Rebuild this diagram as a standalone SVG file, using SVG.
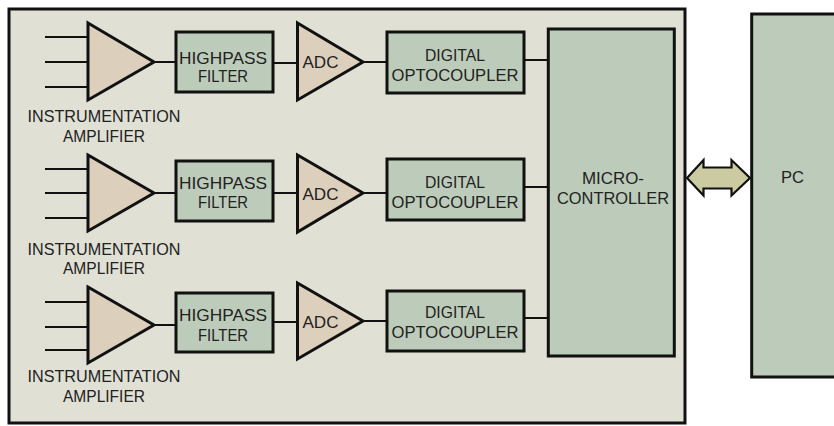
<svg xmlns="http://www.w3.org/2000/svg" width="834" height="426" viewBox="0 0 834 426">
<style>
.bg{fill:#e0e0d4;stroke:#111;stroke-width:3}
.box{fill:#bdccba;stroke:#111;stroke-width:3}
.tri{fill:#dccfbc;stroke:#111;stroke-width:3;stroke-linejoin:miter}
.ln{stroke:#111;stroke-width:1.8;fill:none}
.arr{fill:#cccaa0;stroke:#111;stroke-width:2.2}
text{font-family:"Liberation Sans",Arial,sans-serif;font-size:17px;fill:#222;text-anchor:middle}
</style>
<rect width="834" height="426" fill="#fff"/>
<rect id="board" class="bg" x="9" y="9" width="676" height="414"/>
<g id="connectors">
<path class="ln" d="M45 37H88M45 62H88M45 87H88M154 62H176M273 63H297.5M363 62H387M524 60H548"/>
<path class="ln" d="M45 169H88M45 193H88M45 218H88M154 193H176M273 193H297.5M363 193H387M524 187H548"/>
<path class="ln" d="M45 302H88M45 327H88M45 350H88M154 325H176M273 322H297.5M363 321H387M524 318H548"/>
<polygon id="link" class="arr" points="687,178 703.5,160 703.5,167.5 731.5,167.5 731.5,160 750,178 731.5,195.5 731.5,188.5 703.5,188.5 703.5,195.5"/>
</g>
<g id="amp1"><polygon class="tri" points="88,23 154,62 88,100"/><text x="104" y="121.5" textLength="153" lengthAdjust="spacingAndGlyphs">INSTRUMENTATION</text><text x="104" y="141.5" textLength="82" lengthAdjust="spacingAndGlyphs">AMPLIFIER</text></g>
<g id="hp1"><rect class="box" x="176" y="32" width="97" height="60"/><text x="223" y="64" textLength="88" lengthAdjust="spacingAndGlyphs">HIGHPASS</text><text x="223" y="82" textLength="50" lengthAdjust="spacingAndGlyphs">FILTER</text></g>
<g id="adc1"><polygon class="tri" points="297.5,23 363,62 297.5,100"/><text x="320.5" y="68" textLength="36" lengthAdjust="spacingAndGlyphs">ADC</text></g>
<g id="opto1"><rect class="box" x="387" y="32" width="137" height="61"/><text x="455" y="61" textLength="60" lengthAdjust="spacingAndGlyphs">DIGITAL</text><text x="455" y="81" textLength="127" lengthAdjust="spacingAndGlyphs">OPTOCOUPLER</text></g>
<g id="amp2"><polygon class="tri" points="88,155 154,193 88,231"/><text x="104" y="255" textLength="153" lengthAdjust="spacingAndGlyphs">INSTRUMENTATION</text><text x="104" y="274" textLength="82" lengthAdjust="spacingAndGlyphs">AMPLIFIER</text></g>
<g id="hp2"><rect class="box" x="176" y="161" width="97" height="60"/><text x="223" y="189" textLength="88" lengthAdjust="spacingAndGlyphs">HIGHPASS</text><text x="223" y="208" textLength="50" lengthAdjust="spacingAndGlyphs">FILTER</text></g>
<g id="adc2"><polygon class="tri" points="297.5,155 363,193 297.5,232"/><text x="320.5" y="200" textLength="36" lengthAdjust="spacingAndGlyphs">ADC</text></g>
<g id="opto2"><rect class="box" x="387" y="159" width="137" height="61"/><text x="455" y="188" textLength="60" lengthAdjust="spacingAndGlyphs">DIGITAL</text><text x="455" y="208" textLength="127" lengthAdjust="spacingAndGlyphs">OPTOCOUPLER</text></g>
<g id="amp3"><polygon class="tri" points="88,287 154,325 88,363"/><text x="104" y="382" textLength="153" lengthAdjust="spacingAndGlyphs">INSTRUMENTATION</text><text x="104" y="402" textLength="82" lengthAdjust="spacingAndGlyphs">AMPLIFIER</text></g>
<g id="hp3"><rect class="box" x="176" y="293" width="97" height="59"/><text x="223" y="321" textLength="88" lengthAdjust="spacingAndGlyphs">HIGHPASS</text><text x="223" y="341" textLength="50" lengthAdjust="spacingAndGlyphs">FILTER</text></g>
<g id="adc3"><polygon class="tri" points="297.5,283 363,321 297.5,359"/><text x="320.5" y="328" textLength="36" lengthAdjust="spacingAndGlyphs">ADC</text></g>
<g id="opto3"><rect class="box" x="387" y="291" width="137" height="60"/><text x="455" y="318" textLength="60" lengthAdjust="spacingAndGlyphs">DIGITAL</text><text x="455" y="338" textLength="127" lengthAdjust="spacingAndGlyphs">OPTOCOUPLER</text></g>
<g id="micro"><rect class="box" x="548.3" y="29" width="126" height="327"/><text x="613" y="184" textLength="62" lengthAdjust="spacingAndGlyphs">MICRO-</text><text x="613" y="204" textLength="112" lengthAdjust="spacingAndGlyphs">CONTROLLER</text></g>
<g id="pc"><rect class="box" x="751.7" y="14" width="100" height="363"/><text x="792.5" y="183" textLength="23" lengthAdjust="spacingAndGlyphs">PC</text></g>
</svg>
